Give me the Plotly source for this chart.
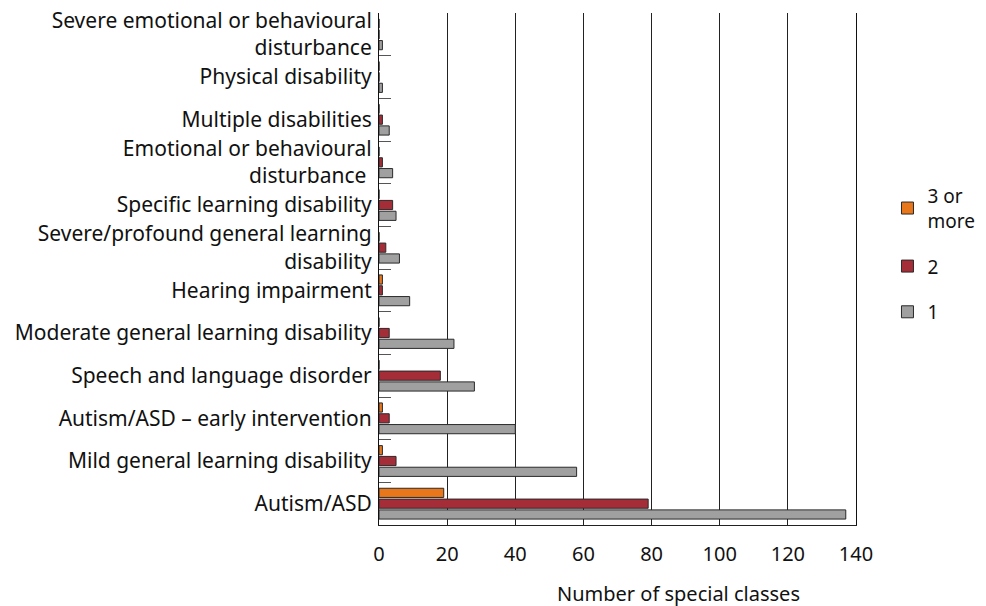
import plotly.graph_objs as go

# categories listed top to bottom as they appear in the chart
categories = [
    'Severe emotional or behavioural<br>disturbance',
    'Physical disability',
    'Multiple disabilities',
    'Emotional or behavioural<br>disturbance ',
    'Specific learning disability',
    'Severe/profound general learning<br>disability',
    'Hearing impairment',
    'Moderate general learning disability',
    'Speech and language disorder',
    'Autism/ASD \u2013 early intervention',
    'Mild general learning disability',
    'Autism/ASD',
]

three_or_more = [0, 0, 0, 0, 0, 0, 1, 0, 0, 1, 1, 19]
two = [0, 0, 1, 1, 4, 2, 1, 3, 18, 3, 5, 79]
one = [1, 1, 3, 4, 5, 6, 9, 22, 28, 40, 58, 137]

series = [
    ('3 or<br>more', three_or_more, '#E8761B'),
    ('2', two, '#A52D38'),
    ('1', one, '#A0A0A0'),
]

fig = go.Figure()
for i, (name, values, color) in enumerate(series):
    fig.add_trace(go.Bar(
        y=categories,
        x=values,
        name=name,
        legendgroup=str(i),
        orientation='h',
        marker=dict(color=color, line=dict(color='#2a2a2a', width=1)),
    ))

font = 'Noto Sans, Open Sans, sans-serif'

# page has an 8px body margin, so the figure is sized to the visible area
fig.update_layout(
    width=978,
    height=598,
    margin=dict(l=371, r=128, t=5, b=81),
    paper_bgcolor='white',
    plot_bgcolor='white',
    barmode='group',
    bargap=0.24,
    bargroupgap=0.15,
    font=dict(family=font, size=20, color='#111111'),
    showlegend=True,
    legend=dict(
        x=1.066,
        y=0.68,
        xanchor='left',
        yanchor='top',
        traceorder='grouped',
        font=dict(size=19),
        tracegroupgap=18,
    ),
    xaxis=dict(
        range=[0, 140],
        tickvals=[0, 20, 40, 60, 80, 100, 120, 140],
        showgrid=True,
        gridcolor='#222222',
        gridwidth=1,
        showline=True,
        linecolor='#222222',
        linewidth=1,
        zeroline=False,
        ticks='',
        tickfont=dict(size=20),
        ticklabelstandoff=11,
        automargin=False,
    ),
    yaxis=dict(
        autorange='reversed',
        showline=True,
        mirror=True,
        linecolor='#111111',
        linewidth=1,
        ticks='inside',
        tickson='boundaries',
        ticklen=12,
        tickcolor='#555555',
        showgrid=False,
        ticklabelstandoff=2,
        tickfont=dict(size=21),
        automargin=False,
    ),
    annotations=[dict(
        text='Number of special classes',
        xref='paper', yref='paper',
        x=0.628, y=-0.134,
        xanchor='center', yanchor='middle',
        showarrow=False,
        font=dict(size=20),
    )],
)

fig.write_html("out.html")
